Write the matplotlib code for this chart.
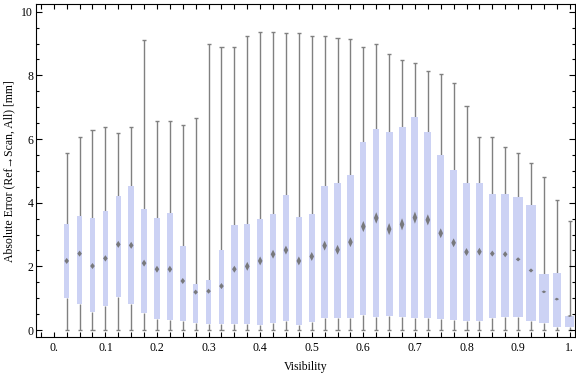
import numpy as np
import matplotlib
matplotlib.use("Agg")
import matplotlib.pyplot as plt
from matplotlib.patches import Polygon, Rectangle
from matplotlib.ticker import MultipleLocator, FixedLocator


# Visibility bins (box centres)
visibility = np.arange(1, 41) * 0.025

# Box-whisker statistics per bin, absolute error [mm]
whisk_lo = [0.0] * 40
q1 = [1.02, 0.81, 0.58, 0.77, 1.05, 0.83, 0.55, 0.36, 0.32, 0.29,
      0.23, 0.20, 0.20, 0.20, 0.20, 0.17, 0.23, 0.29, 0.17, 0.26,
      0.39, 0.39, 0.39, 0.47, 0.42, 0.44, 0.42, 0.39, 0.39, 0.34,
      0.31, 0.29, 0.29, 0.39, 0.42, 0.40, 0.29, 0.23, 0.10, 0.10]
median = [2.17, 2.40, 2.01, 2.25, 2.69, 2.66, 2.10, 1.91, 1.91, 1.54,
          1.19, 1.22, 1.38, 1.91, 2.00, 2.17, 2.38, 2.51, 2.17, 2.31,
          2.65, 2.52, 2.76, 3.25, 3.52, 3.17, 3.32, 3.53, 3.46, 3.04,
          2.74, 2.45, 2.46, 2.40, 2.38, 2.22, 1.87, 1.20, 0.97, 0.44]
q3 = [3.33, 3.58, 3.52, 3.74, 4.21, 4.53, 3.80, 3.52, 3.68, 2.64,
      1.45, 1.57, 2.52, 3.30, 3.34, 3.49, 3.66, 4.25, 3.55, 3.65,
      4.53, 4.62, 4.87, 5.91, 6.32, 6.23, 6.38, 6.70, 6.23, 5.50,
      5.03, 4.62, 4.62, 4.28, 4.28, 4.18, 3.93, 1.76, 1.79, 0.44]
whisk_hi = [5.56, 6.06, 6.27, 6.39, 6.20, 6.39, 9.10, 6.58, 6.58, 6.44,
            6.66, 8.99, 8.89, 8.89, 9.25, 9.36, 9.36, 9.33, 9.33, 9.25,
            9.25, 9.17, 9.14, 8.89, 8.99, 8.68, 8.48, 8.39, 8.13, 8.05,
            7.77, 7.03, 6.06, 6.06, 5.75, 5.56, 5.24, 4.80, 4.08, 3.42]
# median notch height [mm]
notch = [0.19, 0.19, 0.19, 0.20, 0.22, 0.22, 0.22, 0.22, 0.22, 0.19,
         0.16, 0.16, 0.19, 0.22, 0.28, 0.28, 0.28, 0.28, 0.28, 0.28,
         0.31, 0.31, 0.31, 0.35, 0.36, 0.38, 0.38, 0.38, 0.35, 0.31,
         0.28, 0.25, 0.25, 0.19, 0.19, 0.13, 0.13, 0.09, 0.09, 0.06]
# box width in visibility units (varies per bin)
box_width = [0.0107] * 13 + [0.0122] * 12 + [0.0136] * 9 + \
            [0.0155, 0.0194, 0.0213, 0.0194, 0.0160, 0.0165]

x_ticks = [0.0, 0.1, 0.2, 0.3, 0.4, 0.5, 0.6, 0.7, 0.8, 0.9, 1.0]
x_tick_labels = ["0.", "0.1", "0.2", "0.3", "0.4", "0.5", "0.6", "0.7", "0.8", "0.9", "1."]
y_ticks = [0, 2, 4, 6, 8, 10]

BOX_COLOR = "#ccd2f4"
WHISKER_COLOR = "#808080"
MEDIAN_COLOR = "#6f6f6f"

plt.rcParams["font.family"] = ["Liberation Serif", "DejaVu Serif"]

fig = plt.figure(figsize=(5.76, 3.77), dpi=100)
ax = fig.add_axes([0.0625, 0.1053, 0.9355, 0.8833])

cap = 0.004
diamond_w = 0.0045
for x, lo, a, m, b, hi, n, w in zip(visibility, whisk_lo, q1, median, q3,
                                    whisk_hi, notch, box_width):
    # whiskers with caps
    ax.vlines(x, lo, a, color=WHISKER_COLOR, lw=1.0, zorder=1)
    ax.vlines(x, b, hi, color=WHISKER_COLOR, lw=1.0, zorder=1)
    ax.hlines([lo, hi], x - cap, x + cap, color=WHISKER_COLOR, lw=1.0, zorder=1)
    # box
    ax.add_patch(Rectangle((x - w / 2, a), w, b - a, facecolor=BOX_COLOR,
                           edgecolor="none", zorder=2))
    # median diamond
    ax.add_patch(Polygon([(x - diamond_w, m), (x, m + n / 2),
                          (x + diamond_w, m), (x, m - n / 2)],
                         closed=True, facecolor=MEDIAN_COLOR,
                         edgecolor="none", alpha=0.9, zorder=3))

ax.set_xlim(-0.0345, 1.01)
ax.set_ylim(-0.229, 10.232)

ax.xaxis.set_major_locator(FixedLocator(x_ticks))
ax.set_xticklabels(x_tick_labels)
ax.xaxis.set_minor_locator(MultipleLocator(0.025))
ax.yaxis.set_major_locator(FixedLocator(y_ticks))
ax.yaxis.set_minor_locator(MultipleLocator(0.5))

ax.tick_params(axis="both", which="both", direction="in", top=True, right=True,
               labelsize=8.5, width=0.8, colors="black")
ax.tick_params(axis="x", which="both", length=3.6, pad=3.5)
ax.tick_params(axis="y", which="major", length=4.3, pad=2)
ax.tick_params(axis="y", which="minor", length=2.4)

for s in ax.spines.values():
    s.set_linewidth(0.8)

ax.set_xlabel("Visibility", fontsize=8.5, labelpad=5)
ax.set_ylabel("Absolute Error (Ref\u2192Scan, All) [mm]", fontsize=8.5, labelpad=4)

fig.savefig("out.png", dpi=100)
